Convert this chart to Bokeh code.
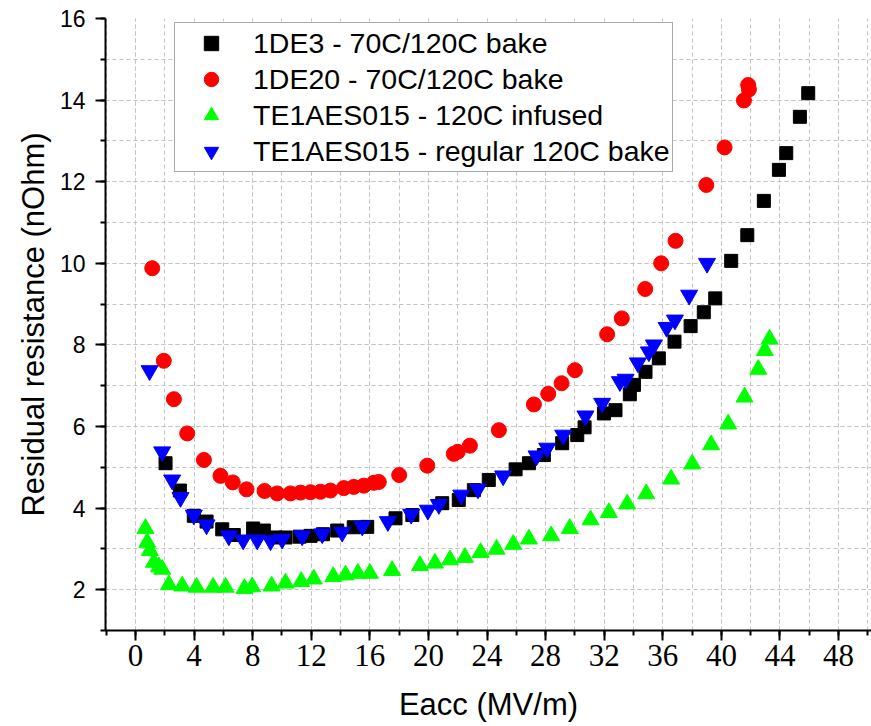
from bokeh.plotting import figure
from bokeh.models import Legend, LegendItem, SingleIntervalTicker, Range1d
from bokeh.embed import file_html
from bokeh.resources import INLINE

# Residual resistance vs accelerating field for four cavities
de3_x = [2.05, 3.03, 3.98, 4.85, 5.92, 6.71, 8.03, 8.76, 9.56, 10.24, 11.2, 11.95, 12.8, 13.77,
         14.9, 15.82, 17.75, 18.9, 20.94, 22.07, 23.1, 24.12, 25.95, 26.86, 27.88, 29.13, 30.16,
         30.66, 31.98, 32.77, 33.75, 34.03, 34.82, 35.73, 36.8, 37.9, 38.8, 39.58, 40.67, 41.77,
         42.9, 43.93, 44.43, 45.36, 45.93]
de3_y = [5.10, 4.43, 3.81, 3.67, 3.48, 3.34, 3.50, 3.45, 3.28, 3.28, 3.30, 3.32, 3.36, 3.45,
         3.53, 3.54, 3.75, 3.83, 4.12, 4.20, 4.44, 4.69, 4.95, 5.10, 5.30, 5.59, 5.79,
         5.98, 6.32, 6.40, 6.79, 7.02, 7.34, 7.67, 8.08, 8.46, 8.80, 9.14, 10.06, 10.69,
         11.53, 12.29, 12.70, 13.59, 14.17]

de20_x = [1.14, 1.93, 2.62, 3.53, 4.67, 5.80, 6.64, 7.58, 8.81, 9.67, 10.58, 11.27, 11.95, 12.63,
          13.31, 14.22, 14.9, 15.59, 16.27, 16.61, 18.0, 19.92, 21.73, 22.0, 22.83, 24.81, 27.2,
          28.18, 29.09, 30.0, 32.2, 33.2, 34.8, 35.89, 36.87, 38.97, 40.22, 41.54, 41.88, 41.83]
de20_y = [9.88, 7.61, 6.67, 5.83, 5.18, 4.79, 4.63, 4.46, 4.42, 4.36, 4.36, 4.38, 4.39, 4.40,
          4.43, 4.49, 4.52, 4.55, 4.62, 4.64, 4.81, 5.04, 5.33, 5.38, 5.53, 5.91, 6.54,
          6.80, 7.06, 7.38, 8.26, 8.65, 9.37, 10.0, 10.55, 11.92, 12.84, 13.99, 14.26, 14.37]

inf_x = [0.68, 0.8, 0.98, 1.25, 1.6, 1.82, 2.28, 3.19, 4.17, 5.3, 6.15, 7.44, 7.97, 9.29, 10.24,
         11.31, 12.17, 13.5, 14.34, 15.18, 16.0, 17.52, 19.42, 20.44, 21.47, 22.49, 23.56, 24.65,
         25.79, 26.86, 28.38, 29.65, 31.07, 32.32, 33.57, 34.87, 36.57, 38.01, 39.3, 40.47, 41.58,
         42.52, 42.97, 43.29]
inf_y = [3.50, 3.16, 2.96, 2.67, 2.56, 2.50, 2.12, 2.09, 2.06, 2.06, 2.06, 2.03, 2.07, 2.09, 2.16,
         2.20, 2.26, 2.32, 2.36, 2.40, 2.40, 2.47, 2.59, 2.65, 2.73, 2.79, 2.91, 2.99,
         3.11, 3.24, 3.32, 3.50, 3.71, 3.89, 4.10, 4.35, 4.71, 5.08, 5.55, 6.06, 6.72,
         7.40, 7.86, 8.14]

reg_x = [0.96, 1.82, 2.5, 3.07, 3.98, 4.85, 6.37, 7.35, 8.31, 9.22, 10.01, 11.38, 12.75, 14.11,
         15.48, 17.23, 18.82, 19.96, 20.71, 22.24, 23.38, 25.1, 27.38, 28.11, 29.2, 30.72, 31.86,
         33.07, 33.46, 34.3, 35.05, 35.39, 36.26, 36.83, 37.8, 39.02]
reg_y = [7.37, 5.38, 4.69, 4.26, 3.83, 3.59, 3.32, 3.22, 3.22, 3.20, 3.24, 3.32, 3.37, 3.41,
         3.56, 3.67, 3.85, 3.95, 4.09, 4.32, 4.47, 4.79, 5.28, 5.47, 5.79, 6.26, 6.57,
         7.10, 7.16, 7.56, 7.83, 8.00, 8.43, 8.61, 9.22, 10.0]

labels = ["1DE3 - 70C/120C bake", "1DE20 - 70C/120C bake",
          "TE1AES015 - 120C infused", "TE1AES015 - regular 120C bake"]

FONT = "Liberation Sans"

p = figure(width=871, height=726, output_backend="svg", toolbar_location=None,
           x_range=Range1d(-2.05, 50.25), y_range=Range1d(1, 16),
           min_border_left=105, min_border_right=0, min_border_top=18, min_border_bottom=96)
p.outline_line_color = None
p.background_fill_color = "white"
p.border_fill_color = "white"

p.xaxis.ticker = SingleIntervalTicker(interval=4, num_minor_ticks=2)
p.yaxis.ticker = SingleIntervalTicker(interval=2, num_minor_ticks=2)

for g in (p.xgrid[0], p.ygrid[0]):
    g.grid_line_color = "#c4c4c4"
    g.grid_line_dash = "4 3"
    g.grid_line_width = 1
    g.minor_grid_line_color = "#c4c4c4"
    g.minor_grid_line_dash = "4 3"
    g.minor_grid_line_width = 1

for ax in (p.xaxis[0], p.yaxis[0]):
    ax.axis_line_color = "black"
    ax.axis_line_width = 2
    ax.major_tick_line_color = "black"
    ax.major_tick_line_width = 2
    ax.major_tick_out = 10
    ax.major_tick_in = 0
    ax.minor_tick_line_color = "black"
    ax.minor_tick_line_width = 2
    ax.minor_tick_out = 5
    ax.minor_tick_in = 0
    ax.major_label_text_color = "black"
    ax.axis_label_text_color = "black"
    ax.axis_label_text_font = FONT
    ax.axis_label_text_font_style = "normal"
    ax.axis_label_text_font_size = "31px"

p.xaxis.axis_label = "Eacc (MV/m)"
p.xaxis.major_label_text_font = "Liberation Sans Narrow"
p.xaxis.major_label_text_font_size = "31px"
p.xaxis.major_label_standoff = 4
p.xaxis.axis_label_standoff = 18

p.yaxis.axis_label = "Residual resistance (nOhm)"
p.yaxis.major_label_text_font = FONT
p.yaxis.major_label_text_font_size = "23px"
p.yaxis.major_label_standoff = 10
p.yaxis.axis_label_standoff = 6

r1 = p.scatter(de3_x, de3_y, marker="square", size=13, color="#000000")
r2 = p.scatter(de20_x, de20_y, marker="circle", size=15, color="#ff0000")
r3 = p.scatter(inf_x, inf_y, marker="triangle", size=17, color="#00ff00")
r4 = p.scatter(reg_x, reg_y, marker="inverted_triangle", size=17, color="#0000ff")

legend = Legend(items=[LegendItem(label=l, renderers=[r]) for l, r in zip(labels, [r1, r2, r3, r4])],
                location=(69, 458), margin=0, padding=2, spacing=0,
                glyph_width=68, glyph_height=36, label_height=36, label_standoff=8,
                label_text_font=FONT, label_text_font_size="28.5px", label_text_color="black",
                border_line_color="#555555", border_line_width=1.5,
                background_fill_color="white", background_fill_alpha=1.0)
p.add_layout(legend)

open("out.html", "w").write(file_html(p, INLINE))
